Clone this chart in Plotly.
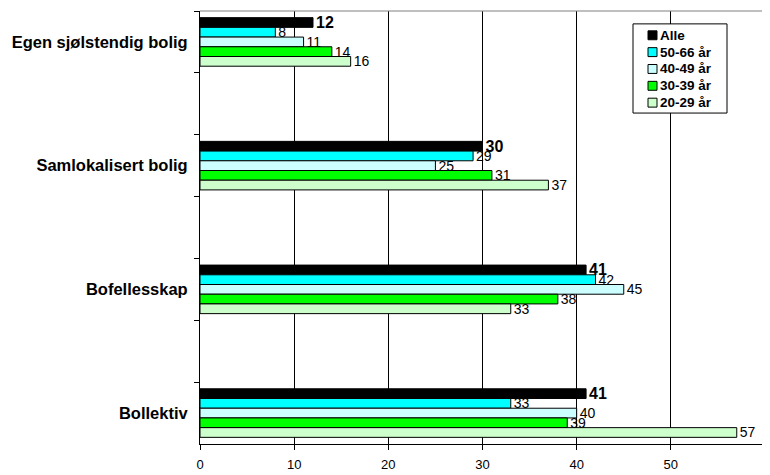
import plotly.graph_objects as go

categories = ["Egen sjølstendig bolig", "Samlokalisert bolig", "Bofellesskap", "Bollektiv"]
axis_categories = ["Egen sjølstendig bolig", " ", "Samlokalisert bolig", "  ",
                   "Bofellesskap", "   ", "Bollektiv"]
series_names = ["Alle", "50-66 år", "40-49 år", "30-39 år", "20-29 år"]
alle = [12, 30, 41, 41]
age_50_66 = [8, 29, 42, 33]
age_40_49 = [11, 25, 45, 40]
age_30_39 = [14, 31, 38, 39]
age_20_29 = [16, 37, 33, 57]
x_ticks = [0, 10, 20, 30, 40, 50, 60]

series_values = [alle, age_50_66, age_40_49, age_30_39, age_20_29]
colors = ["#000000", "#00FFFF", "#CCFFFF", "#00FF00", "#CCFFCC"]

FONT = "Liberation Sans, Arial, sans-serif"
BODY = 8  # default browser body margin
W, H = 770 - BODY, 475 - BODY
ML, MR, MT, MB = 200 - BODY, 5, 11 - BODY, 27
PW, PH = W - ML - MR, H - MT - MB

fig = go.Figure()
for i, (name, vals, col) in enumerate(zip(series_names, series_values, colors)):
    is_all = i == 0
    fig.add_trace(go.Bar(
        y=categories, x=vals, name=name, orientation="h",
        marker=dict(color=col, line=dict(color="#000000", width=1)),
        text=[str(v) for v in vals], textposition="outside",
        constraintext="none", cliponaxis=False,
        textfont=dict(family=FONT, size=16 if is_all else 14, color="#000000",
                      weight="bold" if is_all else "normal"),
        showlegend=False,
    ))


# helpers converting page pixels into paper coordinates (legend box only)
def px_x(p):
    return (p - BODY - ML) / PW


def px_y(p):
    return (H + BODY - MB - p) / PH


shapes = [
    dict(type="path", xref="paper", yref="paper", path="M0,1 L1,1 L1,0",
         line=dict(color="#808080", width=1), layer="above"),
    dict(type="rect", xref="paper", yref="paper",
         x0=px_x(633), x1=px_x(727), y0=px_y(114), y1=px_y(24),
         fillcolor="#FFFFFF", line=dict(color="#000000", width=1), layer="above"),
]
annotations = []
for i, (name, col) in enumerate(zip(series_names, colors)):
    cy = 35.5 + i * 17
    shapes.append(dict(type="rect", xref="paper", yref="paper",
                       x0=px_x(648), x1=px_x(657), y0=px_y(cy + 4.5), y1=px_y(cy - 4.5),
                       fillcolor=col, line=dict(color="#000000", width=1), layer="above"))
    annotations.append(dict(xref="paper", yref="paper", x=px_x(658), y=px_y(cy),
                            xanchor="left", yanchor="middle", showarrow=False,
                            text="<b>" + name + "</b>",
                            font=dict(family=FONT, size=13.5, color="#000000")))

fig.update_layout(
    width=W, height=H,
    margin=dict(l=ML, r=MR, t=MT, b=MB, pad=0),
    paper_bgcolor="#FFFFFF", plot_bgcolor="#FFFFFF",
    barmode="group", bargap=0.215, bargroupgap=0,
    font=dict(family=FONT, color="#000000"),
    shapes=shapes, annotations=annotations,
    xaxis=dict(range=[0, 60], tickvals=x_ticks, showgrid=True, gridcolor="#000000",
               gridwidth=1, showline=True, linecolor="#000000", linewidth=1,
               ticks="outside", ticklen=5, tickcolor="#000000", zeroline=False,
               ticklabelstandoff=3,
               tickfont=dict(family=FONT, size=13, color="#000000")),
    yaxis=dict(type="category", categoryorder="array", categoryarray=axis_categories,
               range=[6.5, -0.5], tickson="boundaries", ticks="outside", ticklen=5,
               tickcolor="#000000", showline=True, linecolor="#000000", linewidth=1,
               showgrid=False, ticklabelstandoff=8,
               tickfont=dict(family=FONT, size=16.5, color="#000000", weight="bold")),
)

fig.write_html("out.html")
